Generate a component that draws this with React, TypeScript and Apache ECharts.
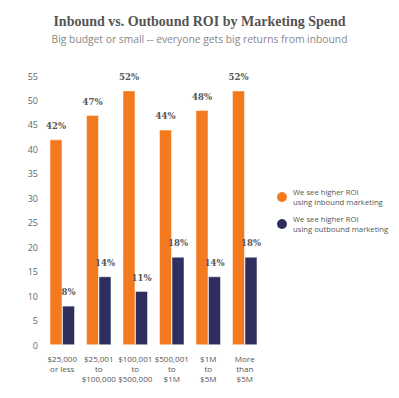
import React, { useEffect, useRef } from "react";
import * as echarts from "echarts";

const categories = ["$25,000\nor less", "$25,001\nto\n$100,000", "$100,001\nto\n$500,000", "$500,001\nto\n$1M", "$1M\nto\n$5M", "More\nthan\n$5M"];
const inbound = [42, 47, 52, 44, 48, 52];
const outbound = [8, 14, 11, 18, 14, 18];
const seriesNames = ["We see higher ROI\nusing inbound marketing", "We see higher ROI\nusing outbound marketing"];
const yTicks = { min: 0, max: 55, interval: 5 };

export default function App() {
  const ref = useRef<HTMLDivElement>(null);
  useEffect(() => {
    const chart = echarts.init(ref.current!, null, { renderer: "svg" });
    const labelStyle = {
      show: true,
      position: "top" as const,
      formatter: "{c}%",
      fontFamily: "DejaVu Serif",
      fontWeight: "bold" as const,
      fontSize: 8.5,
      color: "#555",
      distance: 9,
    };
    chart.setOption({
      animation: false,
      backgroundColor: "#fff",
      title: [
        {
          text: "Inbound vs. Outbound ROI by Marketing Spend",
          left: "center",
          top: 9,
          textStyle: { fontFamily: "Liberation Serif", fontWeight: "bold", fontSize: 14, color: "#555" },
        },
        {
          text: "Big budget or small -- everyone gets big returns from inbound",
          left: "center",
          top: 29,
          textStyle: { fontFamily: "Open Sans", fontWeight: "normal", fontSize: 10.3, color: "#888" },
        },
      ],
      legend: {
        orient: "vertical",
        left: 270,
        top: 182,
        icon: "circle",
        itemWidth: 12,
        itemHeight: 12,
        itemGap: 7,
        textStyle: { fontFamily: "Open Sans", fontSize: 7.7, color: "#555", lineHeight: 10 },
      },
      grid: { left: 44, right: 136, top: 76, bottom: 53, containLabel: false },
      xAxis: {
        type: "category",
        data: categories,
        axisLine: { show: false },
        axisTick: { show: false },
        axisLabel: { fontFamily: "Open Sans", fontSize: 8, color: "#555", lineHeight: 10, margin: 8, interval: 0 },
      },
      yAxis: {
        type: "value",
        min: yTicks.min,
        max: yTicks.max,
        interval: yTicks.interval,
        splitLine: { show: false },
        axisLine: { show: false },
        axisTick: { show: false },
        axisLabel: { fontFamily: "Open Sans", fontSize: 9, color: "#666", margin: 6 },
      },
      series: [
        {
          name: seriesNames[0],
          type: "bar",
          data: inbound,
          barWidth: 12.5,
          barGap: "0%",
          itemStyle: { color: "#F47A20", borderColor: "#fff", borderWidth: 0.5 },
          label: labelStyle,
        },
        {
          name: seriesNames[1],
          type: "bar",
          data: outbound,
          barWidth: 12.5,
          barGap: "0%",
          itemStyle: { color: "#2E2E5F", borderColor: "#fff", borderWidth: 0.5 },
          label: labelStyle,
        },
      ],
    });
    return () => chart.dispose();
  }, []);
  return <div ref={ref} style={{ width: 399, height: 398, margin: -8 }} />;
}
